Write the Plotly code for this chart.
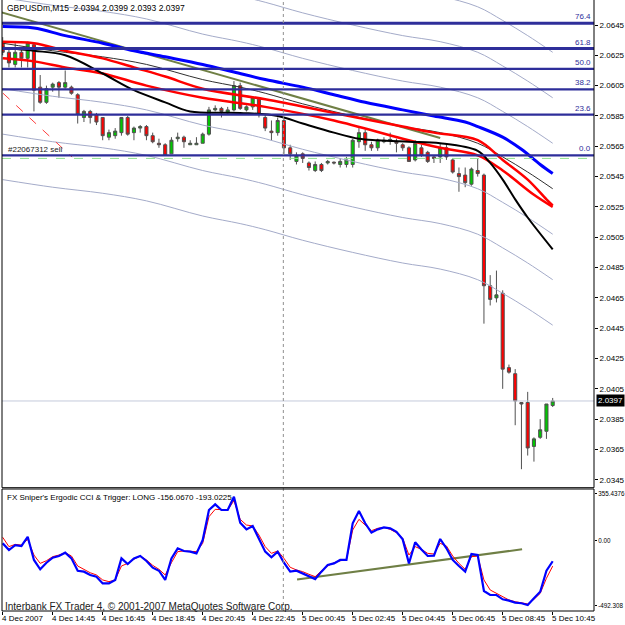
import plotly.graph_objects as go

W = H = 625

# ---------------- data ----------------
bars = list(range(89))
opens = [2.0634, 2.0627, 2.0619, 2.0627, 2.0623, 2.0632, 2.0604, 2.0594, 2.0604, 2.0607,
         2.0604, 2.0604, 2.0599, 2.0584, 2.0588, 2.0586, 2.0584, 2.0571, 2.0572, 2.0574,
         2.0584, 2.0574, 2.0577, 2.0578, 2.0572, 2.0567, 2.0566, 2.0560, 2.0570, 2.0571,
         2.0566, 2.0566, 2.0567, 2.0573, 2.0589, 2.0590, 2.0587, 2.0589, 2.0605, 2.0589,
         2.0591, 2.0596, 2.0584, 2.0575, 2.0574, 2.0582, 2.0564, 2.0555, 2.0560, 2.0554,
         2.0549, 2.0553, 2.0554, 2.05545, 2.0553, 2.0553, 2.0553, 2.0568, 2.0574, 2.0566,
         2.0564, 2.0568, 2.0569, 2.0568, 2.0566, 2.0564, 2.0556, 2.0564, 2.0561, 2.0558,
         2.0558, 2.0564, 2.0556, 2.0547, 2.0546, 2.0540, 2.0549, 2.0546, 2.0473, 2.0465,
         2.0468, 2.0419, 2.0415, 2.0396, 2.0396, 2.0367, 2.0373, 2.0377, 2.0394]
highs = [2.0637, 2.0630, 2.0633, 2.0630, 2.0634, 2.0633, 2.0612, 2.0605, 2.0607, 2.0608,
         2.0615, 2.0605, 2.0600, 2.0589, 2.0589, 2.0587, 2.0584, 2.0576, 2.0577, 2.0584,
         2.0585, 2.0578, 2.0579, 2.0579, 2.0574, 2.0570, 2.0567, 2.0571, 2.0574, 2.0572,
         2.0569, 2.0571, 2.0574, 2.0591, 2.0592, 2.0591, 2.0591, 2.0608, 2.0607, 2.0592,
         2.0598, 2.0597, 2.0586, 2.0582, 2.0584, 2.0583, 2.0566, 2.0561, 2.0561, 2.0555,
         2.0555, 2.0554, 2.0556, 2.0555, 2.0557, 2.0558, 2.0570, 2.0577, 2.0576, 2.0568,
         2.0570, 2.0571, 2.0574, 2.0570, 2.0567, 2.0565, 2.0569, 2.0566, 2.0562, 2.0559,
         2.0567, 2.0566, 2.0557, 2.0551, 2.0551, 2.0551, 2.0557, 2.0547, 2.0480, 2.0483,
         2.0470, 2.0421, 2.0418, 2.0396, 2.0403, 2.0373, 2.0385, 2.0395, 2.0399]
lows = [2.0625, 2.0617, 2.0617, 2.0617, 2.0617, 2.0588, 2.0593, 2.0593, 2.0601, 2.0597,
        2.0603, 2.0599, 2.0580, 2.0581, 2.0580, 2.0579, 2.0569, 2.0569, 2.0570, 2.0572,
        2.0572, 2.0569, 2.0574, 2.0569, 2.0567, 2.0564, 2.0559, 2.0560, 2.0568, 2.0564,
        2.0566, 2.0566, 2.0567, 2.0572, 2.0588, 2.0584, 2.0586, 2.0588, 2.0589, 2.0588,
        2.0589, 2.0584, 2.0575, 2.0569, 2.0572, 2.0560, 2.0556, 2.0553, 2.0554, 2.0549,
        2.0548, 2.0548, 2.0553, 2.0553, 2.0551, 2.0551, 2.0551, 2.0564, 2.0562, 2.0562,
        2.0562, 2.0567, 2.0566, 2.0561, 2.0562, 2.0555, 2.0555, 2.0558, 2.0554, 2.0554,
        2.0554, 2.0556, 2.0547, 2.0535, 2.0538, 2.0539, 2.0545, 2.0448, 2.0460, 2.0462,
        2.0405, 2.0415, 2.0381, 2.0352, 2.0361, 2.0357, 2.0372, 2.0372, 2.0393]
closes = [2.0627, 2.0620, 2.0627, 2.0623, 2.0633, 2.0602, 2.0594, 2.0603, 2.0606, 2.0604,
          2.0607, 2.0600, 2.0586, 2.0588, 2.0584, 2.0581, 2.0572, 2.0574, 2.0575, 2.0584,
          2.0573, 2.0577, 2.0578, 2.0572, 2.0568, 2.0566, 2.0559, 2.0569, 2.0571, 2.0568,
          2.0567, 2.0567, 2.0573, 2.0589, 2.0590, 2.0588, 2.0589, 2.0605, 2.0590, 2.0591,
          2.0597, 2.0586, 2.0577, 2.0574, 2.0582, 2.0564, 2.0560, 2.0559, 2.0557, 2.0551,
          2.0553, 2.0549, 2.0555, 2.0554, 2.0555, 2.0556, 2.0569, 2.0574, 2.0566, 2.0564,
          2.0569, 2.0569, 2.05695, 2.0567, 2.0564, 2.0555, 2.0567, 2.0559, 2.0555, 2.0557,
          2.0564, 2.0558, 2.0548, 2.0545, 2.0541, 2.0550, 2.0547, 2.0473, 2.0464, 2.0467,
          2.0418, 2.0416, 2.0397, 2.0395, 2.0366, 2.0372, 2.0378, 2.0395, 2.0397]

# moving averages (bar index, price)
blue_ma_x = [0, 5, 10, 16, 21, 26, 32, 37, 42, 48, 53, 58, 64, 69, 74, 76, 80, 83, 86, 88]
blue_ma_y = [2.0644, 2.0643, 2.0638, 2.0633, 2.0628, 2.0624, 2.0619, 2.0614, 2.0609, 2.0604,
             2.0599, 2.0594, 2.0589, 2.0585, 2.0581, 2.0578, 2.0571, 2.0563, 2.0553, 2.0547]
red1_x = [0, 5, 10, 16, 21, 26, 32, 42, 53, 64, 69, 76, 80, 84, 87, 88]
red1_y = [2.0634, 2.0633, 2.0628, 2.0623, 2.0617, 2.0611, 2.0603, 2.0596, 2.0587, 2.0578,
          2.0574, 2.0569, 2.0556, 2.0543, 2.0530, 2.0526]
red2_x = [0, 5, 10, 16, 23, 32, 42, 53, 64, 70, 76, 80, 85, 88]
red2_y = [2.0623, 2.0621, 2.0617, 2.0613, 2.0605, 2.0597, 2.0591, 2.0582, 2.0570, 2.0564,
          2.0559, 2.0549, 2.0533, 2.0525]
black_x = [0, 5, 10, 16, 21, 26, 30, 38, 44, 48, 53, 57, 60, 65, 70, 76, 78, 80, 82, 84, 88]
black_y = [2.0630, 2.0628, 2.0625, 2.0613, 2.0602, 2.0594, 2.0588, 2.0587, 2.0585, 2.0580,
           2.0574, 2.0570, 2.0569, 2.0568, 2.0567, 2.0562, 2.0554, 2.0543, 2.0530, 2.0518, 2.0497]
center_x = [0, 8, 16, 23, 32, 38, 42, 48, 56, 64, 70, 76, 80, 84, 88]
center_y = [2.0633, 2.0628, 2.0624, 2.0619, 2.0609, 2.0604, 2.0600, 2.0593, 2.0585, 2.0578,
            2.0574, 2.0567, 2.0558, 2.0548, 2.0537]
env_offsets = [-0.009, -0.006, -0.003, 0.003, 0.006, 0.009]

trend_x = [-0.43, 70]
trend_y = [2.06536, 2.05705]
order_x = [0.05, 11.1]
order_y = [2.0600, 2.05579]

fib_levels = ["0.0", "23.6", "38.2", "50.0", "61.8", "76.4"]
fib_prices = [2.0559, 2.05859, 2.06025, 2.0616, 2.06295, 2.06461]
sell_price = 2.0557
last_price = 2.0397
separator_bar = 44.9

price_ticks = [2.0645, 2.0625, 2.0605, 2.0585, 2.0565, 2.0545, 2.0525, 2.0505,
               2.0485, 2.0465, 2.0445, 2.0425, 2.0405, 2.0385, 2.0365, 2.0345]

cci = [-20, -71, -33, -40, 30, -146, -217, -167, -129, -116,
       -91, -134, -228, -235, -260, -273, -324, -324, -298, -134,
       -177, -134, -116, -154, -205, -228, -298, -134, -58, -78,
       -83, -96, 5, 233, 276, 233, 233, 334, 137, 86,
       112, 18, -83, -126, -83, -167, -235, -228, -248, -265,
       -291, -235, -184, -172, -146, -146, 132, 225, 132, 61,
       86, 101, 94, 68, 10, -172, -12, -66, -116, -114,
       13, -58, -146, -192, -235, -101, -109, -382, -412, -412,
       -445, -455, -470, -475, -488, -437, -387, -228, -156]
trigger = [26, -45, -28, -33, 10, -109, -172, -152, -121, -109,
           -91, -116, -192, -217, -243, -260, -298, -311, -298, -192,
           -172, -141, -116, -146, -187, -217, -260, -167, -83, -78,
           -83, -83, -20, 182, 238, 233, 233, 304, 162, 119,
           112, 43, -45, -96, -78, -134, -202, -222, -235, -255,
           -273, -228, -192, -167, -152, -146, 81, 162, 119, 76,
           94, 101, 86, 61, 18, -109, -45, -66, -96, -101,
           -20, -40, -116, -172, -217, -121, -116, -298, -374, -400,
           -430, -450, -463, -470, -480, -445, -400, -285, -193]
cci_trend_x = [47.1, 83.1]
cci_trend_y = [-294, -65]
cci_ticks = [355.4376, 0.0, -492.308]
cci_tick_text = ["355.4376", "0.00", "-492.308"]

label_bars = [0, 8, 16, 24, 32, 40, 48, 56, 64, 72, 80, 88]
label_text = ["4 Dec 2007", "4 Dec 14:45", "4 Dec 16:45", "4 Dec 18:45", "4 Dec 20:45",
              "4 Dec 22:45", "5 Dec 00:45", "5 Dec 02:45", "5 Dec 04:45", "5 Dec 06:45",
              "5 Dec 08:45", "5 Dec 10:45"]

# ---------------- layout helpers ----------------
def px(p):
    return p / W

def py(p):
    return 1 - p / H

FONT = "Liberation Sans"
X_LEFT, X_RIGHT = 2, 594
MAIN_TOP, MAIN_BOT = 0, 487.7
SUB_TOP, SUB_BOT = 489, 611

fig = go.Figure()

for off in env_offsets:
    fig.add_trace(go.Scatter(x=center_x, y=[c + off for c in center_y], mode="lines",
                             line=dict(color="#a4abc9", width=1, shape="spline"),
                             hoverinfo="skip", showlegend=False))
fig.add_trace(go.Scatter(x=center_x, y=center_y, mode="lines",
                         line=dict(color="#303030", width=1, shape="spline"),
                         hoverinfo="skip", showlegend=False))
fig.add_trace(go.Scatter(x=trend_x, y=trend_y, mode="lines",
                         line=dict(color="#6f7f45", width=2), showlegend=False))
fig.add_trace(go.Scatter(x=order_x, y=order_y, mode="lines",
                         line=dict(color="#ff4040", width=1, dash="dash"), showlegend=False))
fig.add_trace(go.Scatter(x=blue_ma_x, y=blue_ma_y, mode="lines",
                         line=dict(color="#0000ff", width=3, shape="spline"), showlegend=False))
fig.add_trace(go.Scatter(x=red1_x, y=red1_y, mode="lines",
                         line=dict(color="#ff0000", width=2.5, shape="spline"), showlegend=False))
fig.add_trace(go.Scatter(x=red2_x, y=red2_y, mode="lines",
                         line=dict(color="#ff0000", width=2.5, shape="spline"), showlegend=False))
fig.add_trace(go.Scatter(x=black_x, y=black_y, mode="lines",
                         line=dict(color="#000000", width=2, shape="spline"), showlegend=False))

fig.add_trace(go.Candlestick(
    x=bars, open=opens, high=highs, low=lows, close=closes,
    increasing=dict(fillcolor="#00c800", line=dict(color="#505050", width=1)),
    decreasing=dict(fillcolor="#ff0000", line=dict(color="#505050", width=1)),
    whiskerwidth=0, showlegend=False, xaxis="x", yaxis="y"))

# CCI panel
fig.add_trace(go.Scatter(x=cci_trend_x, y=cci_trend_y, mode="lines", xaxis="x", yaxis="y2",
                         line=dict(color="#6f7f45", width=2), showlegend=False))
fig.add_trace(go.Scatter(x=bars, y=trigger, mode="lines", xaxis="x", yaxis="y2",
                         line=dict(color="#ff0000", width=1), showlegend=False))
fig.add_trace(go.Scatter(x=bars, y=cci, mode="lines", xaxis="x", yaxis="y2",
                         line=dict(color="#0000ff", width=2.2), showlegend=False))

x_range = [(X_LEFT - 2.7) / 6.25, (X_RIGHT - 2.7) / 6.25]
p_scale = 15160.0
y_range = [2.0645 - (MAIN_BOT - 25) / p_scale, 2.0645 + 25 / p_scale]
c_scale = 7.59
c_range = [(540.7 - SUB_BOT) * c_scale, (540.7 - SUB_TOP) * c_scale]

shapes = []
# fib lines
for i, p in enumerate(fib_prices):
    shapes.append(dict(type="line", xref="paper", yref="y", x0=px(X_LEFT), x1=px(X_RIGHT),
                       y0=p, y1=p, line=dict(color="#2e2e9a", width=3 if i >= 4 else 2.2)))
shapes.append(dict(type="line", xref="paper", yref="y", x0=px(X_LEFT), x1=px(X_RIGHT),
                   y0=sell_price, y1=sell_price, line=dict(color="#8fe08f", width=1, dash="dash")))
shapes.append(dict(type="line", xref="paper", yref="y", x0=px(X_LEFT), x1=px(X_RIGHT),
                   y0=last_price, y1=last_price, line=dict(color="#c4cbdc", width=1)))
shapes.append(dict(type="line", xref="x", yref="paper", x0=separator_bar, x1=separator_bar,
                   y0=py(SUB_BOT), y1=1, line=dict(color="#909090", width=1, dash="dot")))
# frames
for (t, b) in [(MAIN_TOP, MAIN_BOT), (SUB_TOP, SUB_BOT)]:
    shapes.append(dict(type="rect", xref="paper", yref="paper", x0=px(X_LEFT), x1=px(X_RIGHT),
                       y0=py(b), y1=py(t) if t > 0 else 1.2, line=dict(color="#000000", width=1)))

annotations = []
annotations.append(dict(x=px(5), y=py(8), xref="paper", yref="paper", xanchor="left", yanchor="middle",
                        text="GBPUSDm,M15  2.0394 2.0399 2.0393 2.0397", showarrow=False,
                        font=dict(family=FONT, size=8.5, color="#000000")))
for lvl, p in zip(fib_levels, fib_prices):
    annotations.append(dict(x=px(X_RIGHT - 1), y=p, xref="paper", yref="y", xanchor="right",
                            yanchor="bottom", text=lvl, showarrow=False, yshift=0,
                            font=dict(family=FONT, size=8, color="#2e2e9a")))
annotations.append(dict(x=px(6), y=fib_prices[0], xref="paper", yref="y", xanchor="left",
                        yanchor="bottom", text="#22067312 sell", showarrow=False, yshift=-1,
                        font=dict(family=FONT, size=8, color="#202020")))
annotations.append(dict(x=px(X_RIGHT + 2), y=last_price, xref="paper", yref="y", xanchor="left",
                        yanchor="middle", text="2.0397", showarrow=False, bgcolor="#000000",
                        borderpad=1, font=dict(family=FONT, size=8, color="#ffffff")))
annotations.append(dict(x=px(5), y=py(497), xref="paper", yref="paper", xanchor="left", yanchor="middle",
                        text="FX Sniper's Ergodic CCI & Trigger: LONG -156.0670 -193.0225", showarrow=False,
                        font=dict(family=FONT, size=8, color="#000000")))
annotations.append(dict(x=px(3), y=py(606), xref="paper", yref="paper", xanchor="left", yanchor="middle",
                        text="Interbank FX Trader 4, © 2001-2007 MetaQuotes Software Corp.", showarrow=False,
                        font=dict(family=FONT, size=10, color="#202020")))
for b, t in zip(label_bars, label_text):
    annotations.append(dict(x=b, y=py(618), xref="x", yref="paper", xanchor="left", yanchor="middle",
                            xshift=-3, text=t, showarrow=False,
                            font=dict(family=FONT, size=8, color="#000000")))

fig.update_layout(
    width=W, height=H, margin=dict(l=0, r=0, t=0, b=0, autoexpand=False), autosize=False,
    paper_bgcolor="#ffffff", plot_bgcolor="#ffffff", showlegend=False,
    xaxis=dict(domain=[px(X_LEFT), px(X_RIGHT)], range=x_range, anchor="y2", automargin=False,
               showgrid=False, zeroline=False, showticklabels=False,
               ticks="outside", ticklen=3, tickcolor="#000000", tickvals=label_bars,
               rangeslider=dict(visible=False)),
    yaxis=dict(domain=[py(MAIN_BOT), 1], range=y_range, anchor="x", side="right", automargin=False,
               showgrid=False, zeroline=False, tickvals=price_ticks,
               ticktext=[f"{v:.4f}" for v in price_ticks],
               ticks="outside", ticklen=3, tickcolor="#000000",
               tickfont=dict(family=FONT, size=8, color="#000000")),
    yaxis2=dict(domain=[py(SUB_BOT), py(SUB_TOP)], range=c_range, anchor="x", side="right",
                automargin=False, ticklabelstandoff=0,
                showgrid=False, zeroline=False, tickvals=cci_ticks, ticktext=cci_tick_text,
                ticks="outside", ticklen=2, tickcolor="#000000",
                tickfont=dict(family=FONT, size=6.3, color="#000000")),
    shapes=shapes, annotations=annotations,
)

fig.write_html("out.html")
